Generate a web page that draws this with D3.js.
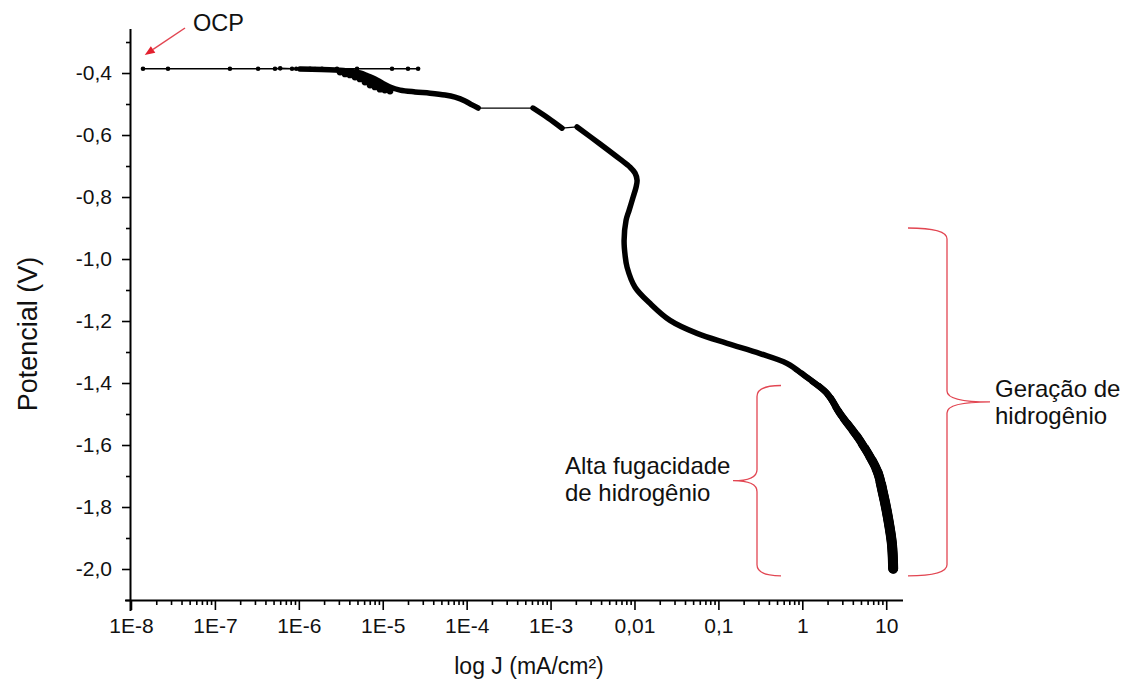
<!DOCTYPE html>
<html>
<head>
<meta charset="utf-8">
<script src="https://cdn.jsdelivr.net/npm/d3@7"></script>
<style>
  html, body { margin: 0; padding: 0; background: #fff; }
  svg { display: block; font-family: "Liberation Sans", Arial, sans-serif; }
</style>
</head>
<body>
<svg id="chart" width="1127" height="686"></svg>
<script>
// Potentiodynamic polarisation curve: current density J (mA/cm²) vs potential E (V)

// Points recorded around the open-circuit potential
const ocpJ = [1.39e-8, 2.76e-8, 1.51e-7, 3.27e-7, 5.2e-7, 6.0e-7, 8.3e-7, 9.3e-7,
              1.36e-6, 1.56e-6, 1.89e-6, 2.85e-6, 4.94e-6, 1.29e-5, 2.0e-5, 2.64e-5];
const ocpE = [-0.386, -0.386, -0.386, -0.386, -0.386, -0.385, -0.386, -0.386,
              -0.386, -0.387, -0.386, -0.386, -0.386, -0.386, -0.386, -0.386];

// Scattered readings just below the OCP
const scatterJ = [3.10e-6, 3.56e-6, 4.07e-6, 4.68e-6, 5.36e-6, 6.15e-6,
                  7.06e-6, 8.09e-6, 9.29e-6, 1.06e-5, 1.22e-5];
const scatterE = [-0.397, -0.403, -0.406, -0.413, -0.419, -0.429,
                  -0.439, -0.445, -0.452, -0.455, -0.458];

// Cathodic branch, first dense run
const branch1J = [1.03e-6, 2.70e-6, 4.07e-6, 5.36e-6, 6.68e-6, 8.09e-6, 9.82e-6, 1.22e-5,
                  1.61e-5, 2.43e-5, 3.66e-5, 5.53e-5, 7.28e-5, 9.57e-5, 1.16e-4, 1.37e-4];
const branch1E = [-0.387, -0.390, -0.394, -0.400, -0.410, -0.419, -0.432, -0.445,
                  -0.455, -0.461, -0.465, -0.471, -0.478, -0.490, -0.503, -0.513];

// Second dense run
const branch2J = [6.18e-4, 9.33e-4, 1.37e-3];
const branch2E = [-0.513, -0.545, -0.578];

// Main cathodic run down to -2.0 V
const branch3J = [2.07e-3, 3.89e-3, 6.73e-3, 8.87e-3, 1.016e-2, 1.074e-2, 1.045e-2, 9.62e-3,
                  8.63e-3, 7.94e-3, 7.52e-3, 7.73e-3, 8.17e-3, 1.016e-2, 1.53e-2, 2.65e-2,
                  5.57e-2, 0.127, 0.314, 0.659, 1.14, 1.98, 2.82, 4.89, 7.80, 9.18, 10.5,
                  11.7, 12.1];
const branch3E = [-0.574, -0.629, -0.678, -0.704, -0.723, -0.746, -0.768, -0.801,
                  -0.843, -0.875, -0.940, -0.988, -1.027, -1.091, -1.143, -1.198,
                  -1.240, -1.272, -1.305, -1.337, -1.382, -1.434, -1.499, -1.586,
                  -1.683, -1.757, -1.835, -1.919, -1.999];

// Axis ticks
const xMajorTicks = [1e-8, 1e-7, 1e-6, 1e-5, 1e-4, 1e-3, 1e-2, 1e-1, 1, 10];
const xTickLabels = ["1E-8", "1E-7", "1E-6", "1E-5", "1E-4", "1E-3", "0,01", "0,1", "1", "10"];
const yMajorTicks = [-2.0, -1.8, -1.6, -1.4, -1.2, -1.0, -0.8, -0.6, -0.4];
const yTickLabels = ["-2,0", "-1,8", "-1,6", "-1,4", "-1,2", "-1,0", "-0,8", "-0,6", "-0,4"];
const yMinorTicks = [-2.1, -1.9, -1.7, -1.5, -1.3, -1.1, -0.9, -0.7, -0.5, -0.3];

const zip = (a, b) => a.map((v, i) => [v, b[i]]);

const W = 1127, H = 686;
const svg = d3.select("#chart");
const plotLeft = 131, plotRight = 903, plotTop = 29, plotBottom = 600;

const x = d3.scaleLog().domain([1e-8, Math.pow(10, 1.2)]).range([plotLeft, plotRight]);
const y = d3.scaleLinear().domain([-2.1, -0.258]).range([plotBottom, plotTop]);

// minor log ticks 2..9 per decade
const xMinorTicks = [];
for (let k = -8; k <= 0; k++) {
  for (let m = 2; m <= 9; m++) xMinorTicks.push(m * Math.pow(10, k));
}

const axisColor = "#000";

// X axis
const gx = svg.append("g").attr("transform", `translate(0,${plotBottom})`);
gx.call(d3.axisBottom(x).tickValues(xMinorTicks).tickSize(5).tickSizeOuter(0).tickFormat(""));
gx.call(g => g.select(".domain").remove());
const gxMaj = svg.append("g").attr("transform", `translate(0,${plotBottom})`);
gxMaj.call(d3.axisBottom(x).tickValues(xMajorTicks).tickSize(10).tickSizeOuter(0)
  .tickPadding(8).tickFormat((d, i) => xTickLabels[i]));
gxMaj.select(".domain").attr("d", `M${plotLeft - 6},0.5H${plotRight}`);

// Y axis
const gy = svg.append("g").attr("transform", `translate(${plotLeft},0)`);
gy.call(d3.axisLeft(y).tickValues(yMinorTicks).tickSize(5).tickSizeOuter(0).tickFormat(""));
gy.call(g => g.select(".domain").remove());
const gyMaj = svg.append("g").attr("transform", `translate(${plotLeft},0)`);
gyMaj.call(d3.axisLeft(y).tickValues(yMajorTicks).tickSize(9).tickSizeOuter(0)
  .tickPadding(10).tickFormat((d, i) => yTickLabels[i]));
gyMaj.select(".domain").attr("d", `M-0.5,${plotTop}V${plotBottom + 11}`);

svg.selectAll(".domain").attr("stroke", axisColor).attr("stroke-width", 2);
svg.selectAll(".tick line").attr("stroke", axisColor).attr("stroke-width", 1.6);
svg.selectAll(".tick text").attr("fill", "#111").style("font-size", "21px")
  .style("font-family", "'Liberation Sans', Arial, sans-serif");

// Axis titles
svg.append("text").attr("x", 529).attr("y", 674).attr("text-anchor", "middle")
  .style("font-size", "23px").attr("fill", "#111").text("log J (mA/cm²)");
svg.append("text").attr("transform", "translate(37,334) rotate(-90)")
  .attr("text-anchor", "middle").style("font-size", "27px").attr("fill", "#111")
  .text("Potencial (V)");

// Curve
const plot = svg.append("g");
const line = d3.line().x(d => x(d[0])).y(d => y(d[1]));
const smooth = d3.line().x(d => x(d[0])).y(d => y(d[1])).curve(d3.curveCatmullRom.alpha(0.5));

const b1 = zip(branch1J, branch1E);
const b2 = zip(branch2J, branch2E);
const b3 = zip(branch3J, branch3E);
const ocp = zip(ocpJ, ocpE);
const sc = zip(scatterJ, scatterE);

// thin connection through sparse readings
plot.append("path").datum(ocp).attr("d", line)
  .attr("fill", "none").attr("stroke", "#000").attr("stroke-width", 1.6);
plot.append("path").datum([b1[b1.length - 1], b2[0]]).attr("d", line)
  .attr("fill", "none").attr("stroke", "#000").attr("stroke-width", 1.2);
plot.append("path").datum([b2[b2.length - 1], b3[0]]).attr("d", line)
  .attr("fill", "none").attr("stroke", "#000").attr("stroke-width", 1.2);

const thick = (data, w, clip) => {
  const p = plot.append("path").datum(data).attr("d", smooth)
    .attr("fill", "none").attr("stroke", "#000").attr("stroke-width", w)
    .attr("stroke-linecap", "round").attr("stroke-linejoin", "round");
  if (clip) p.attr("clip-path", `url(#${clip})`);
  return p;
};

// dense runs
[b1, b2, b3].forEach(run => thick(run, 5.5));

// the band widens as the readings get noisier at high cathodic current
const defs = svg.append("defs");
const widen = d3.range(0, 10).map(i => [-1.36 - i * 0.04, 6 + i * 0.45]);
widen.forEach(([eMax, w], i) => {
  const id = `tail${i}`;
  defs.append("clipPath").attr("id", id).append("rect")
    .attr("x", 0).attr("y", y(eMax)).attr("width", W).attr("height", H - y(eMax));
  thick(b3, w, id);
});

// the scattered readings fill the band under the first run
const bandTop = b1.filter(d => d[0] >= scatterJ[0] && d[0] <= scatterJ[scatterJ.length - 1]);
plot.append("path").datum(bandTop.concat(sc.slice().reverse()))
  .attr("d", d3.line().x(d => x(d[0])).y(d => y(d[1])).curve(d3.curveLinearClosed))
  .attr("fill", "#000").attr("stroke", "#000").attr("stroke-width", 3).attr("stroke-linejoin", "round");

// markers
plot.selectAll("circle.ocp").data(ocp).join("circle").attr("class", "ocp")
  .attr("cx", d => x(d[0])).attr("cy", d => y(d[1])).attr("r", 2.3).attr("fill", "#000");
plot.selectAll("circle.sc").data(sc).join("circle").attr("class", "sc")
  .attr("cx", d => x(d[0])).attr("cy", d => y(d[1])).attr("r", 3.4).attr("fill", "#000");

// Annotations
const red = "#e24652";
const ann = svg.append("g");

// OCP arrow
const ax1 = 185, ay1 = 28, ax2 = x(1.5e-8) - 1, ay2 = y(-0.342);
const ang = Math.atan2(ay2 - ay1, ax2 - ax1);
const hl = 10, hw = 4;
const bx = ax2 - hl * Math.cos(ang), by = ay2 - hl * Math.sin(ang);
ann.append("line").attr("x1", ax1).attr("y1", ay1).attr("x2", bx).attr("y2", by)
  .attr("stroke", red).attr("stroke-width", 1.5);
ann.append("path").attr("d",
  `M${ax2},${ay2}L${bx + hw * Math.sin(ang)},${by - hw * Math.cos(ang)}L${bx - hw * Math.sin(ang)},${by + hw * Math.cos(ang)}Z`)
  .attr("fill", "#e3202e");
ann.append("text").attr("x", 193).attr("y", 31).style("font-size", "23.5px").attr("fill", "#111").text("OCP");

// curly brace: tipX at the ends, spineX vertical, beakX middle point
function brace(tipX, spineX, beakX, yTop, yBot) {
  const mid = (yTop + yBot) / 2, r = 11;
  return `M${tipX},${yTop}Q${spineX},${yTop} ${spineX},${yTop + r}` +
         `L${spineX},${mid - r}Q${spineX},${mid} ${beakX},${mid}` +
         `Q${spineX},${mid} ${spineX},${mid + r}` +
         `L${spineX},${yBot - r}Q${spineX},${yBot} ${tipX},${yBot}`;
}
ann.append("path").attr("d", brace(908, 947, 990, y(-0.90), y(-2.022)))
  .attr("fill", "none").attr("stroke", red).attr("stroke-width", 1.3);
ann.append("path").attr("d", brace(781, 757, 733, y(-1.408), y(-2.022)))
  .attr("fill", "none").attr("stroke", red).attr("stroke-width", 1.3);

const t1 = ann.append("text").attr("x", 995).attr("y", 397).style("font-size", "24px").attr("fill", "#111");
t1.append("tspan").attr("x", 995).text("Geração de");
t1.append("tspan").attr("x", 995).attr("dy", 27).text("hidrogênio");
const t2 = ann.append("text").attr("x", 565).attr("y", 474).style("font-size", "24px").attr("fill", "#111");
t2.append("tspan").attr("x", 565).text("Alta fugacidade");
t2.append("tspan").attr("x", 565).attr("dy", 27).text("de hidrogênio");
</script>
</body>
</html>
